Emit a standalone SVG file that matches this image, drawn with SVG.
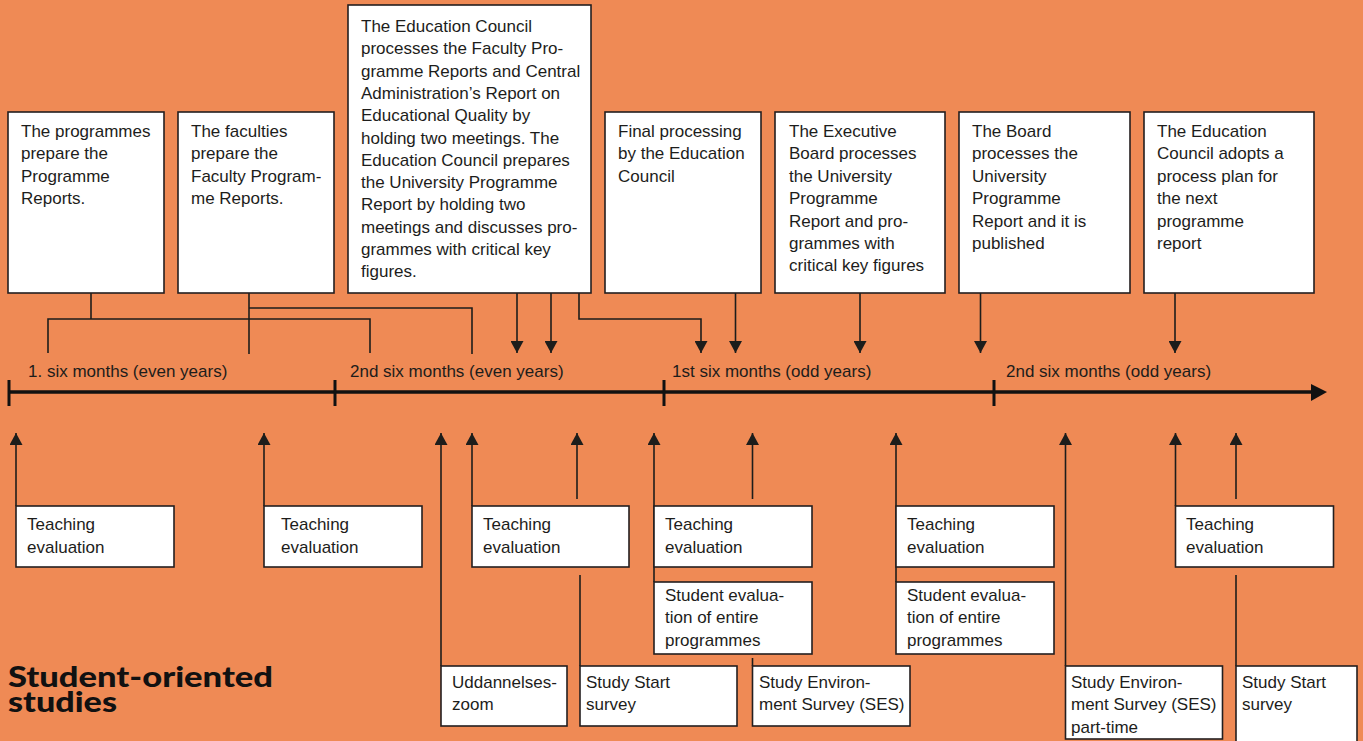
<svg xmlns="http://www.w3.org/2000/svg" width="1363" height="741" viewBox="0 0 1363 741">
<style>
.bg{fill:#EF8A55}
.box{fill:#ffffff;stroke:#231f20;stroke-width:1.6}
.t{font-family:"Liberation Sans",Arial,sans-serif;font-size:17px;fill:#1d1d1b}
.ln{fill:none;stroke:#1d1d1b;stroke-width:1.6}
.ar{fill:none;stroke:#1d1d1b;stroke-width:1.6;marker-end:url(#ah)}
.title{font-family:"Lato","Liberation Sans",sans-serif;font-weight:900;font-size:28px;fill:#111}
</style>
<defs>
<marker id="ah" viewBox="0 0 12 13" refX="12" refY="6.5" markerWidth="12" markerHeight="13" orient="auto" markerUnits="userSpaceOnUse">
<path d="M0,0 L12,6.5 L0,13 z" fill="#1d1d1b"/>
</marker>
</defs>
<rect class="bg" x="0" y="0" width="1363" height="741"/>

<g id="connectors">
<polyline class="ln" points="91,293 91,319"/>
<polyline class="ln" points="48,353 48,319 370,319 370,353"/>
<polyline class="ln" points="249,293 249,354"/>
<polyline class="ln" points="249,308 472,308 472,354"/>
<line class="ar" x1="517" y1="293" x2="517" y2="353"/>
<line class="ar" x1="551" y1="293" x2="551" y2="353"/>
<polyline class="ar" points="579,293 579,319 701,319 701,353"/>
<line class="ar" x1="735.5" y1="293" x2="735.5" y2="353"/>
<line class="ar" x1="860" y1="293" x2="860" y2="353"/>
<line class="ar" x1="980.5" y1="293" x2="980.5" y2="353"/>
<line class="ar" x1="1175" y1="293" x2="1175" y2="353"/>
<line x1="8" y1="392" x2="1314" y2="392" stroke="#111" stroke-width="3.5"/>
<polygon points="1311,384 1327,392 1311,401" fill="#111"/>
<g stroke="#111" stroke-width="3">
<line x1="9" y1="380" x2="9" y2="406"/>
<line x1="335" y1="380" x2="335" y2="406"/>
<line x1="664" y1="380" x2="664" y2="406"/>
<line x1="994" y1="380" x2="994" y2="406"/>
</g>
<line class="ar" x1="16" y1="506" x2="16" y2="433"/>
<line class="ar" x1="264" y1="506" x2="264" y2="433"/>
<line class="ar" x1="441" y1="666" x2="441" y2="433"/>
<line class="ar" x1="472" y1="506" x2="472" y2="433"/>
<line class="ar" x1="577" y1="499" x2="577" y2="433"/>
<line class="ln" x1="580" y1="575" x2="580" y2="666"/>
<line class="ar" x1="654" y1="582" x2="654" y2="433"/>
<line class="ar" x1="752.5" y1="499" x2="752.5" y2="433"/>
<line class="ln" x1="752.5" y1="658" x2="752.5" y2="666"/>
<line class="ar" x1="896" y1="582" x2="896" y2="433"/>
<line class="ar" x1="1065.5" y1="666" x2="1065.5" y2="433"/>
<line class="ar" x1="1175.5" y1="506" x2="1175.5" y2="433"/>
<line class="ar" x1="1236" y1="499" x2="1236" y2="433"/>
<line class="ln" x1="1236" y1="575" x2="1236" y2="666"/>
</g>

<g id="timeline-labels" class="t">
<text x="28" y="377">1. six months (even years)</text>
<text x="350" y="377">2nd six months (even years)</text>
<text x="672" y="377">1st six months (odd years)</text>
<text x="1006" y="377">2nd six months (odd years)</text>
</g>

<g id="top1"><rect class="box" x="8" y="112" width="156" height="181"/>
<text class="t" x="21" y="137">The programmes<tspan x="21" dy="22.4">prepare the</tspan><tspan x="21" dy="22.4">Programme</tspan><tspan x="21" dy="22.4">Reports.</tspan></text></g>
<g id="top2"><rect class="box" x="178" y="112" width="156" height="181"/>
<text class="t" x="191" y="137">The faculties<tspan x="191" dy="22.4">prepare the</tspan><tspan x="191" dy="22.4">Faculty Program-</tspan><tspan x="191" dy="22.4">me Reports.</tspan></text></g>
<g id="top3"><rect class="box" x="348" y="5" width="243" height="288"/>
<text class="t" x="361" y="32">The Education Council<tspan x="361" dy="22.3">processes the Faculty Pro-</tspan><tspan x="361" dy="22.3">gramme Reports and Central</tspan><tspan x="361" dy="22.3">Administration’s Report on</tspan><tspan x="361" dy="22.3">Educational Quality by</tspan><tspan x="361" dy="22.3">holding two meetings. The</tspan><tspan x="361" dy="22.3">Education Council prepares</tspan><tspan x="361" dy="22.3">the University Programme</tspan><tspan x="361" dy="22.3">Report by holding two</tspan><tspan x="361" dy="22.3">meetings and discusses pro-</tspan><tspan x="361" dy="22.3">grammes with critical key</tspan><tspan x="361" dy="22.3">figures.</tspan></text></g>
<g id="top4"><rect class="box" x="605" y="112" width="156" height="181"/>
<text class="t" x="618" y="137">Final processing<tspan x="618" dy="22.4">by the Education</tspan><tspan x="618" dy="22.4">Council</tspan></text></g>
<g id="top5"><rect class="box" x="775" y="112" width="170" height="181"/>
<text class="t" x="789" y="137">The Executive<tspan x="789" dy="22.4">Board processes</tspan><tspan x="789" dy="22.4">the University</tspan><tspan x="789" dy="22.4">Programme</tspan><tspan x="789" dy="22.4">Report and pro-</tspan><tspan x="789" dy="22.4">grammes with</tspan><tspan x="789" dy="22.4">critical key figures</tspan></text></g>
<g id="top6"><rect class="box" x="959" y="112" width="171" height="181"/>
<text class="t" x="972" y="137">The Board<tspan x="972" dy="22.4">processes the</tspan><tspan x="972" dy="22.4">University</tspan><tspan x="972" dy="22.4">Programme</tspan><tspan x="972" dy="22.4">Report and it is</tspan><tspan x="972" dy="22.4">published</tspan></text></g>
<g id="top7"><rect class="box" x="1144" y="112" width="170" height="181"/>
<text class="t" x="1157" y="137">The Education<tspan x="1157" dy="22.4">Council adopts a</tspan><tspan x="1157" dy="22.4">process plan for</tspan><tspan x="1157" dy="22.4">the next</tspan><tspan x="1157" dy="22.4">programme</tspan><tspan x="1157" dy="22.4">report</tspan></text></g>

<g id="te1"><rect class="box" x="16" y="506" width="158" height="61"/>
<text class="t" x="27" y="530">Teaching<tspan x="27" dy="22.7">evaluation</tspan></text></g>
<g id="te2"><rect class="box" x="264" y="506" width="158" height="61"/>
<text class="t" x="281" y="530">Teaching<tspan x="281" dy="22.7">evaluation</tspan></text></g>
<g id="te3"><rect class="box" x="472" y="506" width="157" height="61"/>
<text class="t" x="483" y="530">Teaching<tspan x="483" dy="22.7">evaluation</tspan></text></g>
<g id="te4"><rect class="box" x="654" y="506" width="158" height="61"/>
<text class="t" x="665" y="530">Teaching<tspan x="665" dy="22.7">evaluation</tspan></text></g>
<g id="te5"><rect class="box" x="896" y="506" width="158" height="61"/>
<text class="t" x="907" y="530">Teaching<tspan x="907" dy="22.7">evaluation</tspan></text></g>
<g id="te6"><rect class="box" x="1175.5" y="506" width="158" height="61"/>
<text class="t" x="1186" y="530">Teaching<tspan x="1186" dy="22.7">evaluation</tspan></text></g>

<g id="se1"><rect class="box" x="654" y="582" width="158" height="72"/>
<text class="t" x="665" y="601">Student evalua-<tspan x="665" dy="22.4">tion of entire</tspan><tspan x="665" dy="22.4">programmes</tspan></text></g>
<g id="se2"><rect class="box" x="896" y="582" width="158" height="72"/>
<text class="t" x="907" y="601">Student evalua-<tspan x="907" dy="22.4">tion of entire</tspan><tspan x="907" dy="22.4">programmes</tspan></text></g>

<g id="uz"><rect class="box" x="441" y="666" width="126" height="60"/>
<text class="t" x="452" y="688">Uddannelses-<tspan x="452" dy="22.4">zoom</tspan></text></g>
<g id="ss1"><rect class="box" x="580" y="666" width="157" height="60"/>
<text class="t" x="586" y="688">Study Start<tspan x="586" dy="22.4">survey</tspan></text></g>
<g id="ses1"><rect class="box" x="752.5" y="666" width="157.5" height="60"/>
<text class="t" x="759" y="688">Study Environ-<tspan x="759" dy="22.4">ment Survey (SES)</tspan></text></g>
<g id="ses2"><rect class="box" x="1065.5" y="666" width="157" height="73"/>
<text class="t" x="1071" y="688">Study Environ-<tspan x="1071" dy="22.4">ment Survey (SES)</tspan><tspan x="1071" dy="22.4">part-time</tspan></text></g>
<g id="ss2"><rect class="box" x="1236" y="666" width="121" height="76"/>
<text class="t" x="1242" y="688">Study Start<tspan x="1242" dy="22.4">survey</tspan></text></g>

<g id="title">
<text class="title" x="8" y="687"><tspan textLength="265" lengthAdjust="spacingAndGlyphs">Student-oriented</tspan><tspan x="8" dy="25" textLength="109" lengthAdjust="spacingAndGlyphs">studies</tspan></text>
</g>
</svg>
